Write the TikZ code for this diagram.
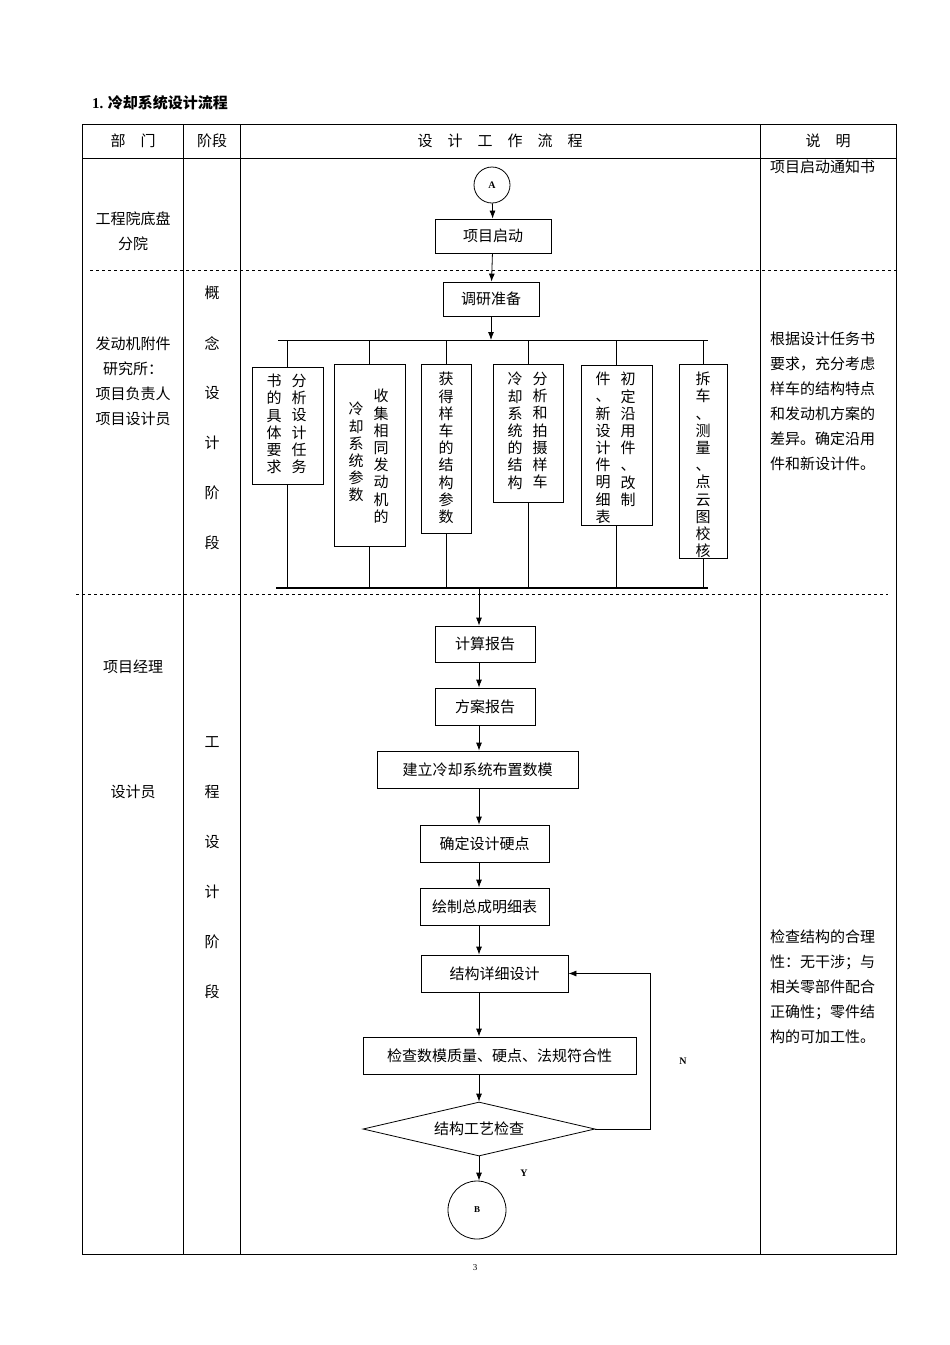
\documentclass[tikz,border=0pt]{standalone}
\usepackage{fontspec}
\setmainfont{Liberation Serif}
\newfontfamily\cjk{Noto Sans CJK SC}
\usetikzlibrary{shapes.geometric,arrows.meta,positioning}
\tikzset{
  box/.style={draw,thick,minimum height=36pt,inner sep=0pt},
  vbox/.style={draw,thick,inner sep=0pt},
  col/.style={anchor=north,align=center,inner sep=0pt,font=\cjk\fontsize{15}{17.2}\selectfont},
  txt/.style={align=center,inner sep=0pt,font=\cjk\fontsize{15}{25}\selectfont},
  note/.style={anchor=north west,align=left,inner sep=0pt,font=\cjk\fontsize{15}{25}\selectfont},
  arr/.style={-{Latex[length=8pt,width=6pt]},thick},
  sep line/.style={dashed,thin}
}
\begin{document}
\begin{tikzpicture}[x=1pt,y=-1pt,font=\cjk\fontsize{15}{18}\selectfont]
\useasboundingbox (0,0) rectangle (950,1345);
% title and table
\node[anchor=west,inner sep=0pt] (title) at (92,103) {\textbf{\rmfamily 1.} \textbf{冷却系统设计流程}};
\draw (82,124) rectangle (896,1254);
\draw (82,158) -- (896,158);
\foreach \x in {183,240,760} \draw (\x,124) -- (\x,1254);
\draw[sep line] (90,270) -- (898,270);
\draw[sep line] (76,594) -- (888,594);
\node[txt] (h1) at (133,141) {部\quad 门};
\node[txt] (h2) at (212,141) {阶段};
\node[txt] (h3) at (500,141) {设\quad 计\quad 工\quad 作\quad 流\quad 程};
\node[txt] (h4) at (828,141) {说\quad 明};
% departments
\node[txt] (d1) at (133,231) {工程院底盘\\分院};
\node[txt] (d2) at (133,381) {发动机附件\\研究所：\\项目负责人\\项目设计员};
\node[txt] (d3) at (133,667) {项目经理};
\node[txt] (d4) at (133,792) {设计员};
% stages
\foreach \c [count=\i] in {概,念,设,计,阶,段}
  \node[txt] (sa\i) at (212,243+50*\i) {\c};
\foreach \c [count=\i] in {工,程,设,计,阶,段}
  \node[txt] (sb\i) at (212,692+50*\i) {\c};
% notes
\node[note] (n1) at (770,160) {项目启动通知书};
\node[note] (n2) at (770,332) {根据设计任务书\\要求，充分考虑\\样车的结构特点\\和发动机方案的\\差异。确定沿用\\件和新设计件。};
\node[note] (n3) at (770,930) {检查结构的合理\\性：无干涉；与\\相关零部件配合\\正确性；零件结\\构的可加工性。};
% flow
\node[draw,thick,circle,minimum size=36pt,inner sep=0pt,font=\bfseries\rmfamily] (A) at (492,185) {A};
\node[box,minimum width=116pt,minimum height=34pt] (start) at (493,236) {项目启动};
\node[box,minimum width=96pt,minimum height=34pt] (prep) at (491,299) {调研准备};
\draw[arr] (A) -- (start);
\draw[arr] (start) -- (prep);
\coordinate (bus) at (491,340);
\draw[arr] (prep) -- (bus);
\draw[thick] (278,340) -- (708,340);
% research boxes
\node[vbox,minimum width=71pt,minimum height=117pt] (b1) at (287.5,425.5) {};
\node[vbox,minimum width=71pt,minimum height=182pt] (b2) at (369.5,455) {};
\node[vbox,minimum width=50pt,minimum height=169pt] (b3) at (446,448.5) {};
\node[vbox,minimum width=70pt,minimum height=138pt] (b4) at (528,433) {};
\node[vbox,minimum width=71pt,minimum height=160pt] (b5) at (616.5,445) {};
\node[vbox,minimum width=48pt,minimum height=194pt] (b6) at (703,461) {};
\node[col] (t1a) at (299,374) {分\\析\\设\\计\\任\\务};
\node[col] (t1b) at (274,374) {书\\的\\具\\体\\要\\求};
\node[col] (t2a) at (381,389) {收\\集\\相\\同\\发\\动\\机\\的};
\node[col] (t2b) at (356,402) {冷\\却\\系\\统\\参\\数};
\node[col] (t3a) at (446,372) {获\\得\\样\\车\\的\\结\\构\\参\\数};
\node[col] (t4a) at (540,372) {分\\析\\和\\拍\\摄\\样\\车};
\node[col] (t4b) at (515,372) {冷\\却\\系\\统\\的\\结\\构};
\node[col] (t5a) at (628,372) {初\\定\\沿\\用\\件\\、\\改\\制};
\node[col] (t5b) at (603,372) {件\\、\\新\\设\\计\\件\\明\\细\\表};
\node[col] (t6a) at (703,372) {拆\\车\\、\\测\\量\\、\\点\\云\\图\\校\\核};
\foreach \b in {b1,b2,b3,b4,b5,b6} {
  \draw[thin] (\b.north) -- (\b.north |- bus);
  \draw[thin] (\b.south) -- (\b.south |- 0,588);
}
\coordinate (join) at (479,588);
\draw[line width=1.6pt] (276,588) -- (708,588);
% design steps
\node[box,minimum width=100pt] (calc) at (485,644) {计算报告};
\node[box,minimum width=100pt,minimum height=37pt] (plan) at (485,706.5) {方案报告};
\node[box,minimum width=201pt,minimum height=37pt] (model) at (477.5,769.5) {建立冷却系统布置数模};
\node[box,minimum width=129pt,minimum height=37pt] (hard) at (484.5,843.5) {确定设计硬点};
\node[box,minimum width=129pt,minimum height=37pt] (bom) at (484.5,906.5) {绘制总成明细表};
\node[box,minimum width=147pt,minimum height=37pt] (detail) at (494.5,973.5) {结构详细设计};
\node[box,minimum width=273pt,minimum height=37pt] (check) at (499.5,1055.5) {检查数模质量、硬点、法规符合性};
\node[draw,thick,diamond,aspect=4.3,minimum width=232pt,minimum height=54pt,inner sep=0pt] (proc) at (479,1129) {结构工艺检查};
\node[draw,thick,circle,minimum size=58pt,inner sep=0pt,font=\bfseries\rmfamily\small] (B) at (477,1210) {B};
\draw[arr] (join) -- (join |- calc.north);
\draw[arr] (calc.south -| 479,0) -- (plan.north -| 479,0);
\draw[arr] (plan.south -| 479,0) -- (model.north -| 479,0);
\draw[arr] (model.south -| 479,0) -- (hard.north -| 479,0);
\draw[arr] (hard.south -| 479,0) -- (bom.north -| 479,0);
\draw[arr] (bom.south -| 479,0) -- (detail.north -| 479,0);
\draw[arr] (detail.south -| 479,0) -- (check.north -| 479,0);
\draw[arr] (check.south -| 479,0) -- (proc.north);
\draw[arr] (proc.south) -- (B.north -| proc.south);
\coordinate (loop) at (650,1129);
\draw[arr] (proc.east) -- (loop) -- (loop |- detail.east) -- (detail.east);
\node[inner sep=0pt,font=\bfseries\rmfamily] (lN) at (683,1061) {N};
\node[inner sep=0pt,font=\bfseries\rmfamily] (lY) at (524,1173) {Y};
\node[inner sep=0pt,font=\rmfamily\small] (page) at (475,1268) {3};
\end{tikzpicture}
\end{document}
